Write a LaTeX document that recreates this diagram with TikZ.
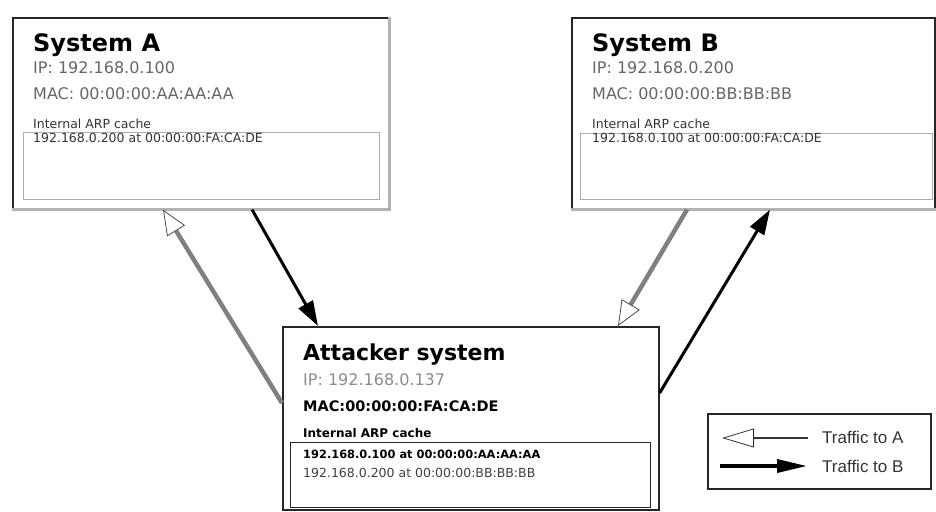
\documentclass[tikz,border=0pt]{standalone}
\usepackage{fontspec}
\setmainfont{DejaVu Sans}
\newfontfamily\keyfont{Liberation Sans}
\usetikzlibrary{arrows.meta}

\begin{document}
\begin{tikzpicture}[x=1pt,y=-1pt,
    outer/.style={draw=black!85, line width=1.6pt, anchor=north west, inner sep=0pt},
    cachebox/.style={draw=gray!65, line width=1.2pt, anchor=north west, inner sep=0pt},
    shadow/.style={draw=gray!60, line width=3.5pt},
    txt/.style={anchor=base west, inner sep=0pt},
    title/.style={txt, font=\bfseries\fontsize{24}{28}\selectfont},
    info/.style={txt, text=black!60, font=\fontsize{16}{19}\selectfont},
    cachetxt/.style={txt, text=black!80, font=\fontsize{12.5}{15}\selectfont},
    toA/.style={draw=black!50, line width=4.5pt, -{Triangle[color=black!70, fill=white, line width=0.8pt, length=25pt, width=21pt]}},
    toB/.style={draw=black, line width=3pt, -{Triangle[length=25pt, width=16pt]}}]
\useasboundingbox (0,0) rectangle (936,511);

% boxes
\node[outer, minimum width=376pt, minimum height=191pt] (sysA) at (12,17) {};
\node[outer, minimum width=363pt, minimum height=191pt] (sysB) at (571,17) {};
\node[outer, minimum width=376pt, minimum height=183pt] (atk) at (282,326) {};
\node[outer, minimum width=223pt, minimum height=75pt] (legend) at (707,413) {};
\draw[shadow] (sysA.south west) -- (sysA.south east) -- (sysA.north east);
\draw[shadow] (sysB.south west) -- (sysB.south east);
\node[cachebox, minimum width=356pt, minimum height=67pt] (cacheA) at (23,132) {};
\node[cachebox, minimum width=352pt, minimum height=66pt] (cacheB) at (580,133) {};
\node[cachebox, draw=black!85, minimum width=360pt, minimum height=65pt] (cacheAtk) at (290,442) {};

% System A
\node[title] (nameA) at (33,52) {System A};
\node[info] (ipA) at (33,74) {IP: 192.168.0.100};
\node[info] (macA) at (33,99) {MAC: 00:00:00:AA:AA:AA};
\node[cachetxt] (capA) at (33,128) {Internal ARP cache};
\node[cachetxt] (entryA) at (33,142) {192.168.0.200 at 00:00:00:FA:CA:DE};

% System B
\node[title] (nameB) at (592,52) {System B};
\node[info] (ipB) at (592,74) {IP: 192.168.0.200};
\node[info] (macB) at (592,99) {MAC: 00:00:00:BB:BB:BB};
\node[cachetxt] (capB) at (592,128) {Internal ARP cache};
\node[cachetxt] (entryB) at (592,142) {192.168.0.100 at 00:00:00:FA:CA:DE};

% Attacker
\node[title, font=\bfseries\fontsize{22}{26}\selectfont] (nameAtk) at (303,360) {Attacker system};
\node[info, text=black!45] (ipAtk) at (303,385) {IP: 192.168.0.137};
\node[info, text=black, font=\bfseries\fontsize{14.5}{17}\selectfont] (macAtk) at (303,411) {MAC:00:00:00:FA:CA:DE};
\node[cachetxt, text=black, font=\bfseries\fontsize{12}{14}\selectfont] (capAtk) at (303,437) {Internal ARP cache};
\node[cachetxt, text=black, font=\bfseries\fontsize{11.4}{14}\selectfont] (entryAtk1) at (303,458) {192.168.0.100 at 00:00:00:AA:AA:AA};
\node[cachetxt, text=black!75] (entryAtk2) at (303,477) {192.168.0.200 at 00:00:00:BB:BB:BB};

% connection points
\coordinate (aIn) at ([shift={(151,0)}]sysA.south west);
\coordinate (aOut) at ([shift={(240,0)}]sysA.south west);
\coordinate (bOut) at ([shift={(116,0)}]sysB.south west);
\coordinate (bIn) at ([shift={(199,0)}]sysB.south west);
\coordinate (atkFromA) at ([shift={(36,0)}]atk.north west);
\coordinate (atkToA) at ([shift={(0,77)}]atk.north west);
\coordinate (atkFromB) at ([shift={(336,0)}]atk.north west);
\coordinate (atkToB) at ([shift={(0,67)}]atk.north east);

% traffic
\draw[toA] (atkToA) -- (aIn);
\draw[toB] (aOut) -- (atkFromA);
\draw[toA] (bOut) -- (atkFromB);
\draw[toB] (atkToB) -- (bIn);

% legend
\coordinate (keyAfrom) at ([shift={(101,25)}]legend.north west);
\coordinate (keyAto) at ([shift={(15,25)}]legend.north west);
\coordinate (keyBfrom) at ([shift={(13,53)}]legend.north west);
\coordinate (keyBto) at ([shift={(100,53)}]legend.north west);
\draw[black!80, line width=1.6pt, -{Triangle[fill=white, line width=0.8pt, length=32pt, width=19pt]}] (keyAfrom) -- (keyAto);
\draw[black, line width=3.5pt, -{Triangle[length=30pt, width=13pt]}] (keyBfrom) -- (keyBto);
\node[txt, font=\keyfont\fontsize{17}{20}\selectfont, text=black!80] (keyA) at (822,443) {Traffic to A};
\node[txt, font=\keyfont\fontsize{17}{20}\selectfont, text=black!80] (keyB) at (822,472) {Traffic to B};
\end{tikzpicture}
\end{document}
